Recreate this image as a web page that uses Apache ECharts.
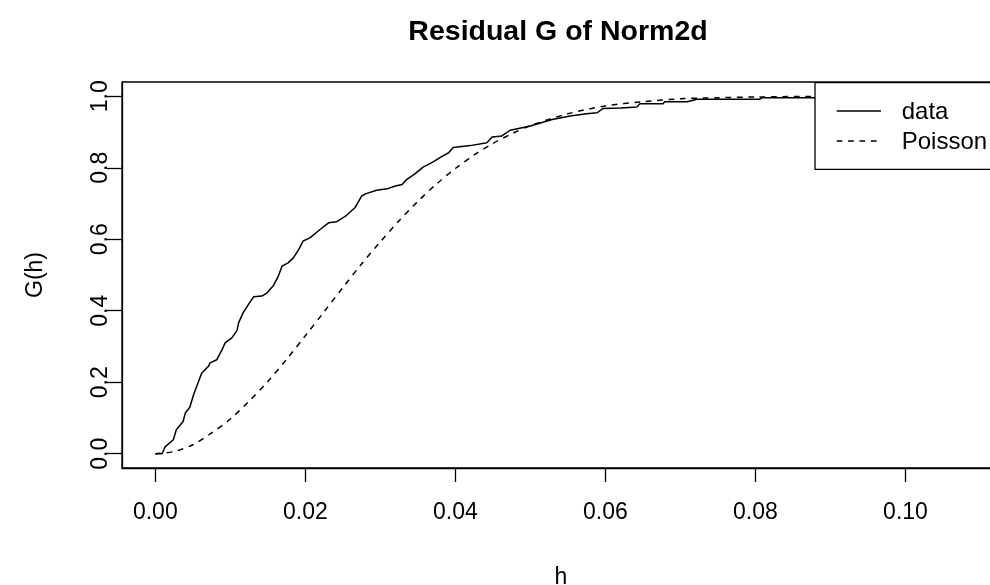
<!DOCTYPE html>
<html>
<head>
<meta charset="utf-8">
<script src="https://cdn.jsdelivr.net/npm/echarts@6/dist/echarts.min.js"></script>
<style>html,body{margin:0;padding:0;background:#fff}#c{width:990px;height:585px}</style>
</head>
<body>
<div id="c"></div>
<script>
var hData = [0, 0.0009, 0.0013, 0.0024, 0.0028, 0.0037, 0.0040, 0.0046, 0.0051, 0.0059, 0.0062, 0.0071, 0.0073, 0.0082, 0.0089, 0.0093, 0.0102, 0.0109, 0.0111, 0.0117, 0.0124, 0.0131, 0.0142, 0.0149, 0.0157, 0.0164, 0.0169, 0.0177, 0.0184, 0.0191, 0.0197, 0.0206, 0.0220, 0.0231, 0.0242, 0.0255, 0.0266, 0.0275, 0.0280, 0.0295, 0.0309, 0.0320, 0.0329, 0.0335, 0.0346, 0.0357, 0.0371, 0.0380, 0.0391, 0.0397, 0.0420, 0.0442, 0.0449, 0.0462, 0.0473, 0.0500, 0.0529, 0.0553, 0.0575, 0.0589, 0.0597, 0.0620, 0.0642, 0.0646, 0.0677, 0.0679, 0.0709, 0.0722, 0.0806, 0.0809, 0.0880, 0.0900, 0.1110];
var gData = [0, 0, 0.019, 0.039, 0.067, 0.090, 0.114, 0.130, 0.165, 0.210, 0.226, 0.245, 0.254, 0.263, 0.291, 0.310, 0.324, 0.345, 0.366, 0.394, 0.417, 0.439, 0.441, 0.450, 0.469, 0.497, 0.525, 0.534, 0.548, 0.571, 0.595, 0.604, 0.628, 0.646, 0.649, 0.667, 0.688, 0.721, 0.727, 0.737, 0.741, 0.749, 0.753, 0.767, 0.783, 0.802, 0.817, 0.829, 0.842, 0.857, 0.862, 0.870, 0.886, 0.889, 0.905, 0.917, 0.935, 0.945, 0.951, 0.954, 0.966, 0.967, 0.970, 0.979, 0.979, 0.985, 0.985, 0.992, 0.992, 0.996, 0.996, 1.0, 1.0];
// Poisson reference curve
var hPois = [0, 0.0025, 0.005, 0.0075, 0.01, 0.0125, 0.015, 0.0175, 0.02, 0.0225, 0.025, 0.0275, 0.03, 0.0325, 0.035, 0.0375, 0.04, 0.0425, 0.045, 0.0475, 0.05, 0.055, 0.06, 0.065, 0.07, 0.075, 0.08, 0.09, 0.1, 0.111];
var gPois = [0, 0.006, 0.025, 0.058, 0.097, 0.147, 0.202, 0.264, 0.330, 0.397, 0.465, 0.531, 0.593, 0.652, 0.706, 0.755, 0.798, 0.836, 0.868, 0.895, 0.918, 0.951, 0.973, 0.985, 0.993, 0.996, 0.998, 1.0, 1.0, 1.0];
var xTicks = [0, 0.02, 0.04, 0.06, 0.08, 0.10];
var yTicks = [0, 0.2, 0.4, 0.6, 0.8, 1.0];
var seriesNames = ['data', 'Poisson'];
var titleText = 'Residual G of Norm2d';
var xName = 'h', yName = 'G(h)';

function pairs(a, b) { return a.map(function (v, i) { return [v, b[i]]; }); }

var FONT = '"Liberation Sans", Arial, sans-serif';
var chart = echarts.init(document.getElementById('c'), null, {renderer: 'canvas'});
chart.setOption({
  animation: false,
  backgroundColor: '#fff',
  grid: {left: 122, right: -10, top: 82, bottom: 117, show: true, borderColor: '#000', borderWidth: 1.3,
    backgroundColor: 'transparent', containLabel: false, outerBoundsMode: 'none'},
  xAxis: {
    type: 'value', position: 'bottom', min: -0.00444, max: 0.1126,
    axisLine: {show: true, onZero: false, lineStyle: {color: '#000', width: 1.3}},
    splitLine: {show: false},
    axisTick: {show: true, inside: false, length: 14, customValues: xTicks, lineStyle: {color: '#000', width: 1.3}},
    axisLabel: {customValues: xTicks, margin: 33, fontSize: 23, color: '#000', fontFamily: FONT,
      formatter: function (v) { return v.toFixed(2); }},
    name: xName, nameLocation: 'middle', nameGap: 98,
    nameTextStyle: {fontSize: 23, color: '#000', fontFamily: FONT}
  },
  yAxis: {
    type: 'value', position: 'left', min: -0.04, max: 1.04,
    axisLine: {show: true, onZero: false, lineStyle: {color: '#000', width: 1.3}},
    splitLine: {show: false},
    axisTick: {show: true, inside: false, length: 15, customValues: yTicks, lineStyle: {color: '#000', width: 1.3}},
    axisLabel: {customValues: yTicks, rotate: 90, margin: 10, fontSize: 23, color: '#000', fontFamily: FONT,
      formatter: function (v) { return v.toFixed(1); }},
    name: yName, nameLocation: 'middle', nameGap: 75,
    nameTextStyle: {fontSize: 23, color: '#000', fontFamily: FONT}
  },
  series: [
    {name: seriesNames[0], type: 'line', data: pairs(hData, gData), showSymbol: false, symbol: 'none',
      lineStyle: {color: '#000', width: 1.5}, z: 3},
    {name: seriesNames[1], type: 'line', data: pairs(hPois, gPois), showSymbol: false, symbol: 'none', smooth: 0.3,
      lineStyle: {color: '#000', width: 1.5, type: [5.7, 5.7]}, z: 2}
  ],
  graphic: [
    {type: 'text', z: 100, style: {text: titleText, x: 558, y: 32, textAlign: 'center', textVerticalAlign: 'middle',
      font: 'bold 28.5px ' + FONT, fill: '#000'}},
    {type: 'rect', z: 100, shape: {x: 815, y: 82.7, width: 200, height: 86.6},
      style: {fill: '#fff', stroke: '#000', lineWidth: 1.3}},
    {type: 'line', z: 101, shape: {x1: 836.7, y1: 111, x2: 881, y2: 111}, style: {stroke: '#000', lineWidth: 1.5}},
    {type: 'line', z: 101, shape: {x1: 836.7, y1: 141, x2: 881, y2: 141}, style: {stroke: '#000', lineWidth: 1.5, lineDash: [5.7, 5.7]}},
    {type: 'text', z: 101, style: {text: seriesNames[0], x: 901.7, y: 112, textVerticalAlign: 'middle', font: '24px ' + FONT, fill: '#000'}},
    {type: 'text', z: 101, style: {text: seriesNames[1], x: 901.7, y: 142, textVerticalAlign: 'middle', font: '24px ' + FONT, fill: '#000'}}
  ]
});
</script>
</body>
</html>
